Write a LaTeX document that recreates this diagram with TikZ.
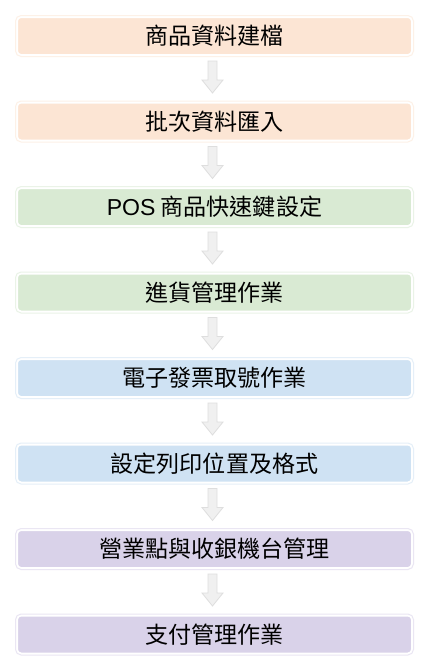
\documentclass[tikz,border=0pt]{standalone}
\usepackage{fontspec}
\setmainfont{Liberation Sans}
\newfontfamily\cjk{Noto Sans CJK TC}
\usetikzlibrary{calc}
\definecolor{cpeach}{HTML}{FCE5D4}
\definecolor{cgreen}{HTML}{D9EAD3}
\definecolor{cblue}{HTML}{CFE2F3}
\definecolor{cpurple}{HTML}{D9D2E9}
\definecolor{arrfill}{HTML}{F0F0F0}
\definecolor{arrline}{HTML}{DEDEDE}
\begin{document}
\begin{tikzpicture}[x=0.75pt,y=-0.75pt,
  stepbox/.style={fill=#1, draw=white, line width=1.5pt, rounded corners=3pt,
    minimum width=395*0.75pt, minimum height=38*0.75pt, outer sep=0pt, inner sep=0pt,
    font=\cjk\fontsize{17.3pt}{19pt}\selectfont, text=black},
  faint/.style={draw=#1!55!white, line width=0.75pt, rounded corners=4.2pt},
  blockarr/.style={fill=arrfill, draw=arrline, line width=0.6pt, line join=miter}]
\useasboundingbox (0,0) rectangle (422,668);
\fill[white] (0,0) rectangle (422,668);
\node[stepbox=cpeach]  (b1) at (214.5,36)    {商品資料建檔};
\node[stepbox=cpeach]  (b2) at (214.5,121.5) {批次資料匯入};
\node[stepbox=cgreen]  (b3) at (214.5,207)   {{\rmfamily POS} 商品快速鍵設定};
\node[stepbox=cgreen]  (b4) at (214.5,292.5) {進貨管理作業};
\node[stepbox=cblue]   (b5) at (214.5,378)   {電子發票取號作業};
\node[stepbox=cblue]   (b6) at (214.5,463.5) {設定列印位置及格式};
\node[stepbox=cpurple] (b7) at (214.5,549)   {營業點與收銀機台管理};
\node[stepbox=cpurple] (b8) at (214.5,634.5) {支付管理作業};
\foreach \n/\c in {1/cpeach,2/cpeach,3/cgreen,4/cgreen,5/cblue,6/cblue,7/cpurple,8/cpurple}{
  \draw[faint=\c] ([shift={(-1.5,-1.5)}]b\n.north west) rectangle ([shift={(1.5,1.5)}]b\n.south east);
}
\foreach \n in {1,...,7}{
  \path ([shift={(-2,6)}]b\n.south) coordinate (t\n);
  \draw[blockarr] ([shift={(-4.5,0)}]t\n) -- ++(9,0) -- ++(0,19) -- ++(6,0) -- ++(-10.5,13) -- ++(-10.5,-13) -- ++(6,0) -- cycle;
}
\end{tikzpicture}
\end{document}
